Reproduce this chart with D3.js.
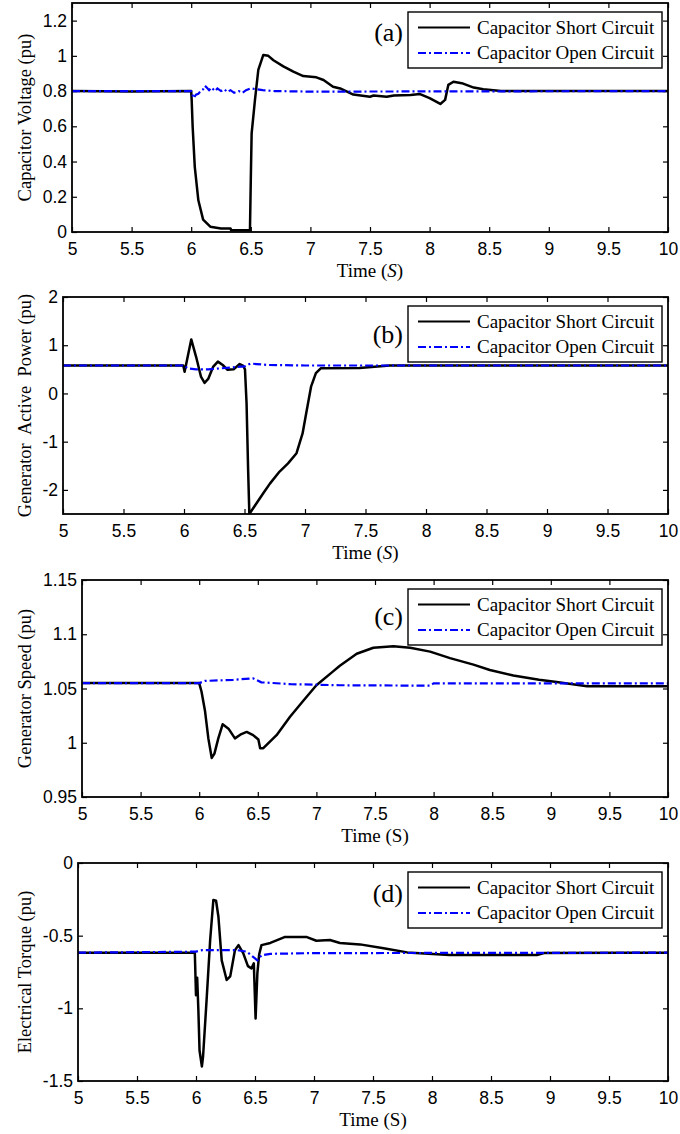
<!DOCTYPE html>
<html>
<head>
<meta charset="utf-8">
<script src="https://cdn.jsdelivr.net/npm/d3@7"></script>
<style>
  body { margin: 0; background: #fff; }
  svg { display: block; background: #fff; }
  .tick text { font-family: Arial, "Liberation Sans", sans-serif; font-size: 17.5px; fill: #000; }
  .tick line { stroke: #000; stroke-width: 1.2; }
  .serif { font-family: "Times New Roman", "Liberation Serif", serif; fill: #000; }
</style>
</head>
<body>
<div id="chart"></div>
<script>
// values: time in s, everything else in pu
const xTicks = [5, 5.5, 6, 6.5, 7, 7.5, 8, 8.5, 9, 9.5, 10]
const seriesNames = ["Capacitor Short Circuit", "Capacitor Open Circuit"]

// (a) capacitor voltage
const voltageTicks = [0, 0.2, 0.4, 0.6, 0.8, 1, 1.2]
const voltageShortT = [5, 5.5, 6.0, 6.004, 6.012, 6.03, 6.06, 6.1, 6.16, 6.25, 6.33, 6.335, 6.493, 6.5, 6.507, 6.535, 6.563, 6.605, 6.647, 6.69, 6.773, 6.857, 6.94, 7.05, 7.11, 7.19, 7.25, 7.36, 7.5, 7.53, 7.64, 7.7, 7.84, 7.92, 8.0, 8.09, 8.13, 8.157, 8.2, 8.27, 8.37, 8.45, 8.6, 10]
const voltageShortV = [0.8, 0.797, 0.8, 0.75, 0.6, 0.37, 0.18, 0.07, 0.03, 0.02, 0.02, 0.01, 0.01, 0.3, 0.56, 0.75, 0.92, 1.005, 1.0, 0.975, 0.94, 0.91, 0.885, 0.878, 0.863, 0.825, 0.815, 0.78, 0.768, 0.775, 0.768, 0.775, 0.778, 0.783, 0.76, 0.727, 0.75, 0.835, 0.853, 0.845, 0.82, 0.81, 0.8, 0.8]
const voltageOpenT = [5, 6.0, 6.02, 6.04, 6.06, 6.08, 6.1, 6.115, 6.13, 6.15, 6.17, 6.2, 6.22, 6.25, 6.28, 6.3, 6.33, 6.36, 6.4, 6.43, 6.46, 6.5, 6.55, 6.6, 6.7, 7, 10]
const voltageOpenV = [0.8, 0.8, 0.76, 0.78, 0.785, 0.8, 0.81, 0.83, 0.82, 0.805, 0.82, 0.8, 0.815, 0.8, 0.81, 0.795, 0.805, 0.79, 0.8, 0.79, 0.805, 0.815, 0.81, 0.805, 0.8, 0.797, 0.8]

// (b) generator active power
const powerTicks = [-2, -1, 0, 1, 2]
const powerShortT = [5, 5.994, 6.005, 6.036, 6.06, 6.1, 6.14, 6.17, 6.2, 6.24, 6.28, 6.32, 6.36, 6.41, 6.46, 6.49, 6.504, 6.517, 6.53, 6.54, 6.58, 6.655, 6.71, 6.79, 6.86, 6.93, 6.98, 7.01, 7.05, 7.09, 7.13, 7.45, 7.7, 10]
const powerShortV = [0.58, 0.58, 0.45, 0.83, 1.12, 0.76, 0.35, 0.22, 0.3, 0.55, 0.66, 0.59, 0.49, 0.5, 0.61, 0.57, 0.5, -0.2, -1.59, -2.5, -2.35, -2.07, -1.87, -1.62, -1.45, -1.24, -0.83, -0.41, 0.14, 0.42, 0.52, 0.53, 0.58, 0.58]
const powerOpenT = [5, 6.0, 6.03, 6.1, 6.2, 6.3, 6.4, 6.5, 6.55, 6.6, 6.7, 7, 10]
const powerOpenV = [0.58, 0.58, 0.52, 0.5, 0.5, 0.52, 0.54, 0.56, 0.62, 0.61, 0.59, 0.58, 0.58]

// (c) generator speed
const speedTicks = [0.95, 1, 1.05, 1.1, 1.15]
const speedShortT = [5, 6.0, 6.02, 6.05, 6.078, 6.107, 6.13, 6.163, 6.2, 6.25, 6.305, 6.36, 6.405, 6.46, 6.505, 6.52, 6.547, 6.66, 6.775, 6.89, 7.0, 7.145, 7.2, 7.344, 7.486, 7.657, 7.8, 7.97, 8.14, 8.34, 8.48, 8.68, 8.9, 9.05, 9.31, 9.56, 10]
const speedShortV = [1.055, 1.055, 1.047, 1.029, 1.004, 0.986, 0.99, 1.004, 1.017, 1.013, 1.004, 1.008, 1.01, 1.007, 1.003, 0.995, 0.995, 1.007, 1.024, 1.039, 1.053, 1.066, 1.071, 1.082, 1.0876, 1.089, 1.0876, 1.084, 1.078, 1.072, 1.067, 1.062, 1.058, 1.056, 1.052, 1.052, 1.052]
const speedOpenT = [5, 6.0, 6.05, 6.29, 6.46, 6.53, 6.78, 7.2, 7.97, 8.0, 10]
const speedOpenV = [1.055, 1.055, 1.057, 1.058, 1.0594, 1.0557, 1.054, 1.053, 1.0526, 1.0548, 1.0548]

// (d) electrical torque
const torqueTicks = [-1.5, -1, -0.5, 0]
const torqueShortT = [5, 5.99, 6.0, 6.01, 6.02, 6.03, 6.05, 6.06, 6.09, 6.12, 6.147, 6.17, 6.19, 6.218, 6.26, 6.29, 6.33, 6.36, 6.4, 6.44, 6.47, 6.49, 6.505, 6.52, 6.535, 6.555, 6.63, 6.75, 6.94, 7.02, 7.135, 7.22, 7.39, 7.59, 7.79, 8.15, 8.89, 8.95, 9.6, 10]
const torqueShortV = [-0.617, -0.617, -0.91, -0.79, -1.01, -1.29, -1.40, -1.33, -0.94, -0.53, -0.255, -0.26, -0.37, -0.67, -0.805, -0.78, -0.6, -0.565, -0.62, -0.71, -0.725, -0.69, -1.07, -0.76, -0.63, -0.565, -0.55, -0.51, -0.51, -0.535, -0.53, -0.55, -0.56, -0.587, -0.615, -0.633, -0.633, -0.62, -0.617, -0.617]
const torqueOpenT = [5, 6.0, 6.05, 6.35, 6.43, 6.5, 6.52, 6.555, 6.63, 7, 10]
const torqueOpenV = [-0.617, -0.61, -0.6, -0.6, -0.61, -0.656, -0.67, -0.635, -0.625, -0.62, -0.617]

// one entry per subplot; the box numbers are the plot area in page pixels
const panels = [
  { tag: "(a)", yLabel: "Capacitor Voltage (pu)", yDomain: [0, 1.3], yTicks: voltageTicks,
    short: [voltageShortT, voltageShortV], open: [voltageOpenT, voltageOpenV],
    box: { left: 72, top: 3, bottom: 232 }, tagDy: 29, italicS: true },
  { tag: "(b)", yLabel: "Generator  Active  Power (pu)", yDomain: [-2.5, 2], yTicks: powerTicks,
    short: [powerShortT, powerShortV], open: [powerOpenT, powerOpenV],
    box: { left: 63, top: 297, bottom: 514 }, tagDy: 37, italicS: true },
  { tag: "(c)", yLabel: "Generator Speed (pu)", yDomain: [0.95, 1.15], yTicks: speedTicks,
    short: [speedShortT, speedShortV], open: [speedOpenT, speedOpenV],
    box: { left: 82, top: 580, bottom: 797 }, tagDy: 36, italicS: false },
  { tag: "(d)", yLabel: "Electrical Torque (pu)", yDomain: [-1.5, 0], yTicks: torqueTicks,
    short: [torqueShortT, torqueShortV], open: [torqueOpenT, torqueOpenV],
    box: { left: 78, top: 863, bottom: 1081 }, tagDy: 30, italicS: false }
]

const width = 680, height = 1134, plotRight = 668
const blue = "#0000ff"
const dashDot = "8,3,2,3"

const svg = d3.select("#chart").append("svg")
  .attr("width", width)
  .attr("height", height)

panels.forEach((p, i) => drawPanel(p, i))

function toPoints(pair) {
  return pair[0].map((t, i) => ({ t, v: pair[1][i] }))
}

function drawPanel(p, i) {
  const { left, top, bottom } = p.box
  const x = d3.scaleLinear().domain([5, 10]).range([left, plotRight])
  const y = d3.scaleLinear().domain(p.yDomain).range([bottom, top])
  const g = svg.append("g")

  g.append("clipPath").attr("id", "clip" + i)
    .append("rect")
    .attr("x", left).attr("y", top)
    .attr("width", plotRight - left).attr("height", bottom - top)

  // MATLAB style: ticks pointing inwards on all four sides
  g.append("g")
    .attr("transform", `translate(0,${bottom})`)
    .call(d3.axisBottom(x).tickValues(xTicks).tickFormat(d => String(d))
      .tickSizeInner(-5).tickSizeOuter(0).tickPadding(11))
    .call(a => a.select(".domain").remove())

  g.append("g")
    .attr("transform", `translate(0,${top})`)
    .call(d3.axisTop(x).tickValues(xTicks).tickFormat("").tickSizeInner(-5).tickSizeOuter(0))
    .call(a => a.select(".domain").remove())

  g.append("g")
    .attr("transform", `translate(${left},0)`)
    .call(d3.axisLeft(y).tickValues(p.yTicks).tickFormat(d => String(d))
      .tickSizeInner(-5).tickSizeOuter(0).tickPadding(5))
    .call(a => a.select(".domain").remove())

  g.append("g")
    .attr("transform", `translate(${plotRight},0)`)
    .call(d3.axisRight(y).tickValues(p.yTicks).tickFormat("").tickSizeInner(-5).tickSizeOuter(0))
    .call(a => a.select(".domain").remove())

  const line = d3.line().x(d => x(d.t)).y(d => y(d.v))

  const curves = g.append("g").attr("clip-path", `url(#clip${i})`)

  curves.append("path")
    .attr("d", line(toPoints(p.short)))
    .attr("fill", "none")
    .attr("stroke", "#000")
    .attr("stroke-width", 2.5)
    .attr("stroke-linejoin", "round")

  // open circuit drawn last so it sits on top, like the original
  curves.append("path")
    .attr("d", line(toPoints(p.open)))
    .attr("fill", "none")
    .attr("stroke", blue)
    .attr("stroke-width", 2.2)
    .attr("stroke-dasharray", dashDot)

  g.append("rect")
    .attr("x", left).attr("y", top)
    .attr("width", plotRight - left).attr("height", bottom - top)
    .attr("fill", "none")
    .attr("stroke", "#000")
    .attr("stroke-width", 1.8)

  // legend
  const lx = 408, ly = top + 9
  const legend = g.append("g")
  legend.append("rect")
    .attr("x", lx).attr("y", ly)
    .attr("width", 254).attr("height", 56)
    .attr("fill", "#fff")
    .attr("stroke", "#000")
    .attr("stroke-width", 1.4)

  const rows = [
    { name: seriesNames[0], color: "#000", dash: null, dy: 15.5 },
    { name: seriesNames[1], color: blue, dash: dashDot, dy: 41 }
  ]
  rows.forEach(r => {
    legend.append("line")
      .attr("x1", lx + 10).attr("x2", lx + 62)
      .attr("y1", ly + r.dy).attr("y2", ly + r.dy)
      .attr("stroke", r.color)
      .attr("stroke-width", 2.2)
      .attr("stroke-dasharray", r.dash)
    legend.append("text")
      .attr("class", "serif")
      .attr("x", lx + 69)
      .attr("y", ly + r.dy + 6)
      .style("font-size", "19px")
      .text(r.name)
  })

  g.append("text")
    .attr("class", "serif")
    .attr("x", lx - 5)
    .attr("y", ly + p.tagDy)
    .attr("text-anchor", "end")
    .style("font-size", "26px")
    .text(p.tag)

  // axis titles
  g.append("text")
    .attr("class", "serif")
    .attr("transform", `translate(25,${(top + bottom) / 2}) rotate(-90)`)
    .attr("text-anchor", "middle")
    .attr("dy", "0.32em")
    .style("font-size", "18.5px")
    .style("white-space", "pre")
    .text(p.yLabel)

  const xt = g.append("text")
    .attr("class", "serif")
    .attr("x", (left + plotRight) / 2)
    .attr("y", bottom + 45)
    .attr("text-anchor", "middle")
    .style("font-size", "19px")
  xt.append("tspan").text("Time (")
  xt.append("tspan").style("font-style", p.italicS ? "italic" : "normal").text("S")
  xt.append("tspan").text(")")
}
</script>
</body>
</html>
